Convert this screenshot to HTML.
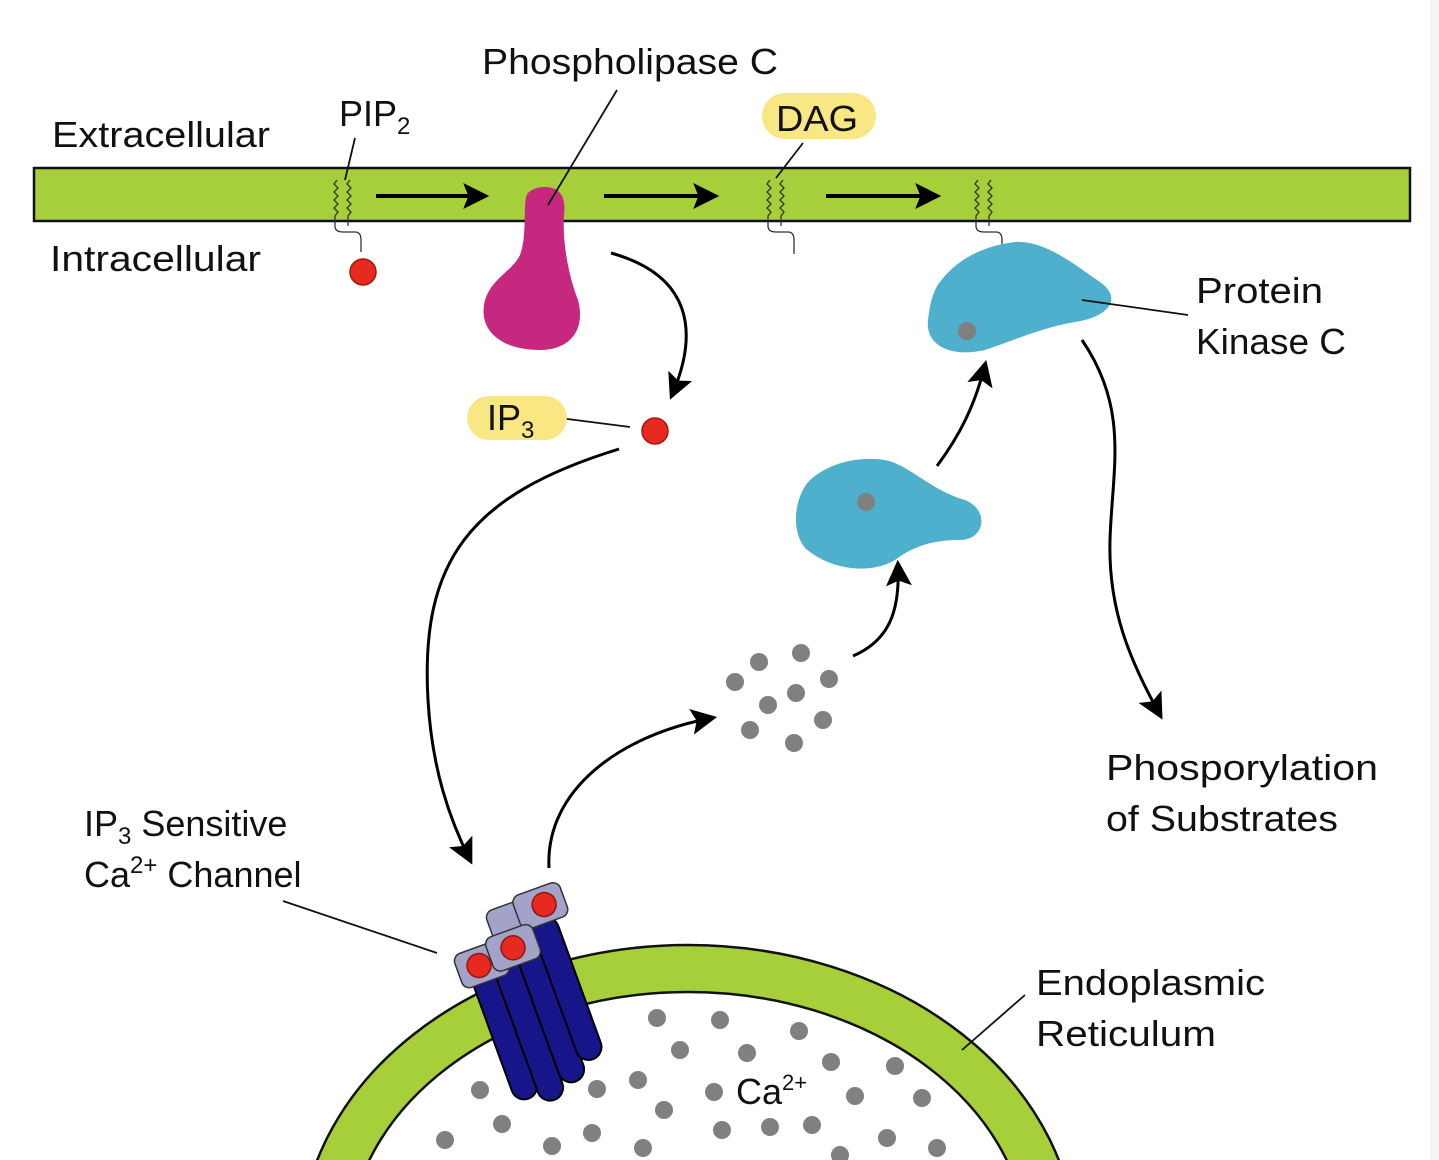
<!DOCTYPE html>
<html><head><meta charset="utf-8"><style>
html,body{margin:0;padding:0;background:#fff;overflow:hidden;width:1439px;height:1160px}
svg{display:block}
text{font-family:"Liberation Sans","DejaVu Sans",sans-serif;fill:#111}
</style></head><body>
<svg width="1439" height="1160" viewBox="0 0 1439 1160" xmlns="http://www.w3.org/2000/svg">
<defs>
<marker id="ah2" viewBox="0 0 10 10" refX="8" refY="5" markerWidth="26" markerHeight="26" orient="auto" markerUnits="userSpaceOnUse"><path d="M0,0 L10,5 L0,10 L2,5 Z" fill="#000"/></marker>
</defs>
<rect x="1430" y="0" width="9" height="1160" fill="#f4f4f4"/>
<rect x="34" y="168" width="1376" height="53" fill="#a6cf3a" stroke="#111" stroke-width="2.5"/>
<ellipse cx="688" cy="1250" rx="388" ry="305" fill="#a6cf3a" stroke="#111" stroke-width="2.5"/>
<ellipse cx="688" cy="1250" rx="340" ry="258" fill="#fff" stroke="#111" stroke-width="2.5"/>
<g fill="#808080">
<circle cx="657" cy="1018" r="9"/><circle cx="720" cy="1020" r="9"/><circle cx="799" cy="1031" r="9"/><circle cx="680" cy="1050" r="9"/><circle cx="747" cy="1053" r="9"/><circle cx="831" cy="1062" r="9"/><circle cx="895" cy="1066" r="9"/><circle cx="480" cy="1090" r="9"/><circle cx="597" cy="1089" r="9"/><circle cx="638" cy="1080" r="9"/><circle cx="714" cy="1092" r="9"/><circle cx="855" cy="1096" r="9"/><circle cx="922" cy="1098" r="9"/><circle cx="502" cy="1124" r="9"/><circle cx="592" cy="1133" r="9"/><circle cx="664" cy="1110" r="9"/><circle cx="722" cy="1130" r="9"/><circle cx="770" cy="1127" r="9"/><circle cx="812" cy="1125" r="9"/><circle cx="887" cy="1138" r="9"/><circle cx="937" cy="1148" r="9"/><circle cx="445" cy="1140" r="9"/><circle cx="552" cy="1146" r="9"/><circle cx="643" cy="1148" r="9"/><circle cx="840" cy="1155" r="9"/>
<circle cx="735" cy="682" r="9"/><circle cx="759" cy="662" r="9"/><circle cx="801" cy="653" r="9"/><circle cx="829" cy="679" r="9"/><circle cx="796" cy="693" r="9"/><circle cx="768" cy="705" r="9"/><circle cx="823" cy="720" r="9"/><circle cx="750" cy="730" r="9"/><circle cx="794" cy="743" r="9"/>
</g>
<text x="736" y="1104" font-size="36">Ca<tspan font-size="22" dy="-14">2+</tspan></text>
<g transform="translate(512,945) rotate(-20)">
<rect x="-50" y="0" width="26" height="150" rx="13" fill="#16168a" stroke="#000" stroke-width="2"/>
<rect x="-26" y="0" width="26" height="160" rx="13" fill="#16168a" stroke="#000" stroke-width="2"/>
<rect x="0" y="-5" width="26" height="155" rx="13" fill="#16168a" stroke="#000" stroke-width="2"/>
<rect x="24" y="-15" width="26" height="150" rx="13" fill="#16168a" stroke="#000" stroke-width="2"/>
<rect x="-15" y="-40" width="50" height="32" rx="8" fill="#a3a3c9" stroke="#333" stroke-width="1.5"/>
<rect x="15" y="-45" width="50" height="36" rx="8" fill="#a3a3c9" stroke="#333" stroke-width="1.5"/>
<circle cx="44" cy="-27" r="12" fill="#e8291f" stroke="#8a1a10" stroke-width="1.5"/>
<rect x="-60" y="-10" width="50" height="36" rx="8" fill="#a3a3c9" stroke="#333" stroke-width="1.5"/>
<circle cx="-38" cy="8" r="12" fill="#e8291f" stroke="#8a1a10" stroke-width="1.5"/>
<rect x="-25" y="-15" width="50" height="36" rx="8" fill="#a3a3c9" stroke="#333" stroke-width="1.5"/>
<circle cx="0" cy="3" r="12" fill="#e8291f" stroke="#8a1a10" stroke-width="1.5"/>
</g>
<g fill="none" stroke="#333" stroke-width="1.3">
<path d="M337,180 l-3,4 l4,4 l-4,4 l4,4 l-4,4 l4,4 l-4,4 l4,4 l-3,4 v10 q0,6 8,6 h12 q6,0 6,8 v12"/>
<path d="M350,180 l-3,4 l4,4 l-4,4 l4,4 l-4,4 l4,4 l-4,4 l4,4 l-3,4 v10"/>
<path d="M770,180 l-3,4 l4,4 l-4,4 l4,4 l-4,4 l4,4 l-4,4 l4,4 l-3,4 v10 q0,6 8,6 h12 q6,0 6,8 v14"/>
<path d="M783,180 l-3,4 l4,4 l-4,4 l4,4 l-4,4 l4,4 l-4,4 l4,4 l-3,4 v10"/>
<path d="M978,180 l-3,4 l4,4 l-4,4 l4,4 l-4,4 l4,4 l-4,4 l4,4 l-3,4 v10 q0,6 8,6 h12 q6,0 6,8 v10"/>
<path d="M991,180 l-3,4 l4,4 l-4,4 l4,4 l-4,4 l4,4 l-4,4 l4,4 l-3,4 v10"/>
</g>
<circle cx="363" cy="272" r="13" fill="#e8291f" stroke="#a01a10" stroke-width="1.5"/>
<path d="M545,187 C562,187 566,200 564,215 C562,245 570,280 578,300 C586,330 570,350 540,350 C500,350 480,330 484,305 C488,280 512,272 520,255 C528,235 522,200 528,193 C533,188 540,187 545,187 Z" fill="#c7287f"/>
<path d="M940,282 C960,255 990,245 1015,242 C1045,240 1075,265 1100,282 C1125,300 1105,318 1075,322 C1040,328 1010,342 985,350 C950,358 925,345 928,320 C930,305 932,292 940,282 Z" fill="#4fb0cd"/>
<circle cx="967" cy="331" r="9" fill="#808080"/>
<path d="M810,480 C830,462 860,456 885,460 C910,465 930,490 965,500 C990,510 985,540 960,540 C935,540 915,545 895,560 C870,575 830,570 805,548 C790,530 795,495 810,480 Z" fill="#4fb0cd"/>
<circle cx="866" cy="502" r="9" fill="#808080"/>
<circle cx="655" cy="431" r="13" fill="#e8291f" stroke="#a01a10" stroke-width="1.5"/>
<g stroke="#000" stroke-width="4" fill="none">
<line x1="376" y1="196" x2="484" y2="196" marker-end="url(#ah2)"/>
<line x1="604" y1="196" x2="714" y2="196" marker-end="url(#ah2)"/>
<line x1="826" y1="196" x2="936" y2="196" marker-end="url(#ah2)"/>
</g>
<g stroke="#000" stroke-width="3" fill="none">
<path d="M611,253 C690,275 700,330 672,395" marker-end="url(#ah2)"/>
<path d="M619,449 C470,495 420,560 428,700 C432,770 450,820 470,860" marker-end="url(#ah2)"/>
<path d="M549,868 C545,790 620,735 712,718" marker-end="url(#ah2)"/>
<path d="M853,656 C890,640 900,610 898,565" marker-end="url(#ah2)"/>
<path d="M937,466 C960,435 975,405 985,365" marker-end="url(#ah2)"/>
<path d="M1082,340 C1130,410 1112,470 1110,540 C1108,610 1130,660 1160,715" marker-end="url(#ah2)"/>
</g>
<g stroke="#111" stroke-width="1.8" fill="none">
<line x1="355" y1="138" x2="345" y2="180"/>
<line x1="617" y1="90" x2="548" y2="205"/>
<line x1="803" y1="143" x2="776" y2="178"/>
<line x1="1082" y1="300" x2="1188" y2="315"/>
<line x1="552" y1="417" x2="630" y2="427"/>
<line x1="283" y1="901" x2="437" y2="953"/>
<line x1="1025" y1="995" x2="962" y2="1050"/>
</g>
<rect x="762" y="93" width="114" height="46" rx="23" fill="#f9e784"/>
<rect x="467" y="396" width="100" height="44" rx="22" fill="#f9e784"/>
<g font-size="36">
<text x="52" y="147" textLength="218" lengthAdjust="spacingAndGlyphs">Extracellular</text>
<text x="50" y="271" textLength="211" lengthAdjust="spacingAndGlyphs">Intracellular</text>
<text x="339" y="126">PIP<tspan font-size="24" dy="8">2</tspan></text>
<text x="482" y="74" textLength="296" lengthAdjust="spacingAndGlyphs">Phospholipase C</text>
<text x="776" y="131" textLength="82" lengthAdjust="spacingAndGlyphs">DAG</text>
<text x="487" y="430">IP<tspan font-size="24" dy="8">3</tspan></text>
<text x="1196" y="303" textLength="127" lengthAdjust="spacingAndGlyphs">Protein</text>
<text x="1196" y="354" textLength="150" lengthAdjust="spacingAndGlyphs">Kinase C</text>
<text x="1106" y="780" textLength="272" lengthAdjust="spacingAndGlyphs">Phosporylation</text>
<text x="1106" y="831" textLength="232" lengthAdjust="spacingAndGlyphs">of Substrates</text>
<text x="84" y="836">IP<tspan font-size="24" dy="8">3</tspan><tspan dy="-8"> Sensitive</tspan></text>
<text x="84" y="887">Ca<tspan font-size="24" dy="-14">2+</tspan><tspan dy="14"> Channel</tspan></text>
<text x="1036" y="995" textLength="229" lengthAdjust="spacingAndGlyphs">Endoplasmic</text>
<text x="1036" y="1046" textLength="180" lengthAdjust="spacingAndGlyphs">Reticulum</text>
</g>
</svg>
</body></html>
